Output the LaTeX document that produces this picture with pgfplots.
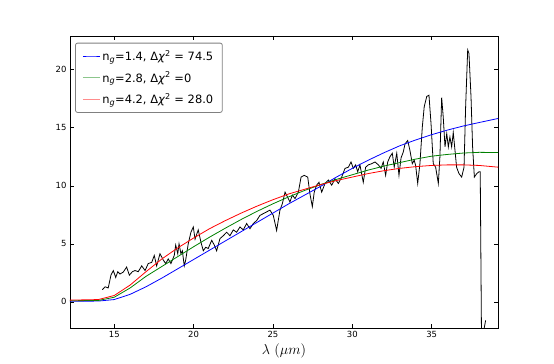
\documentclass[border=0pt]{standalone}
\usepackage{fontspec}
\setmainfont{DejaVu Sans}
\usepackage{pgfplots}
\pgfplotsset{compat=1.18}

\definecolor{mplgreen}{rgb}{0,0.5,0}

\begin{document}
\begin{tikzpicture}
\useasboundingbox (-70bp,-36bp) rectangle (484bp,328bp);
\begin{axis}[
    at={(0,0)}, anchor=south west,
    scale only axis, width=428bp, height=292bp,
    xmin=12.21, xmax=39.18, ymin=-2.25, ymax=22.9,
    xtick={15,20,25,30,35}, ytick={0,5,10,15,20},
    tick align=inside, major tick length=4bp,
    tick style={black, line width=0.5pt},
    axis line style={line width=0.8pt},
    ticklabel style={font=\fontsize{8.5}{10}\selectfont},
    /pgf/number format/assume math mode=true,
    xlabel={$\lambda\ (\mu m)$},
    xlabel style={font=\fontsize{14}{16}\selectfont, at={(axis description cs:0.5,0)}, anchor=center, yshift=-23bp},
    legend cell align=left,
    legend style={at={(axis description cs:0.012,0.977)}, anchor=north west,
        draw=black!50, line width=0.8pt, rounded corners=2pt,
        font=\fontsize{11.5}{13}\selectfont, row sep=6bp, inner xsep=7bp, inner ysep=5bp},
]
\addlegendimage{blue, line width=0.8pt}
\addlegendentry{n\textsubscript{\textit{g}}=1.4, Δ\textit{χ}\textsuperscript{2} = 74.5}
\addlegendimage{mplgreen!45, line width=0.8pt}
\addlegendentry{n\textsubscript{\textit{g}}=2.8, Δ\textit{χ}\textsuperscript{2} =0}
\addlegendimage{red!45, line width=0.8pt}
\addlegendentry{n\textsubscript{\textit{g}}=4.2, Δ\textit{χ}\textsuperscript{2} = 28.0}

% observed spectrum
\addplot[black, line width=0.8pt, forget plot] coordinates {
(14.25,1.05) (14.42,1.3) (14.62,1.2) (14.79,2.3) (14.94,2.7) (15.09,2.1)
(15.22,2.6) (15.36,2.4) (15.57,2.57) (15.78,3.0) (15.95,2.3) (16.14,2.6)
(16.31,2.7) (16.51,2.6) (16.73,3.1) (16.94,2.7) (17.14,3.3) (17.36,3.4)
(17.52,4.0) (17.67,3.1) (17.88,4.15) (18.09,3.6) (18.24,3.3) (18.40,3.7)
(18.57,3.3) (18.78,4.0) (18.87,4.9) (19.00,4.15) (19.08,5.0) (19.20,4.15)
(19.29,4.4) (19.41,3.1) (19.50,3.6) (19.66,5.0) (19.83,6.0) (19.98,6.45)
(20.09,5.4) (20.29,6.2) (20.46,5.15) (20.61,4.4) (20.76,4.7) (20.92,4.6)
(21.14,5.3) (21.30,4.9) (21.45,4.4) (21.66,5.45) (21.87,5.7) (22.08,6.0)
(22.29,5.7) (22.50,6.2) (22.71,6.0) (22.92,6.45) (23.13,6.2) (23.34,6.75)
(23.55,6.3) (23.76,6.75) (23.97,7.0) (24.18,7.45) (24.39,7.6) (24.60,7.75)
(24.81,7.9) (25.02,7.45) (25.23,6.15) (25.44,7.9) (25.59,8.45) (25.76,9.45)
(25.93,9.0) (26.07,8.6) (26.22,9.2) (26.39,8.9) (26.60,9.45) (26.77,10.75)
(26.97,10.9) (27.19,10.75) (27.33,9.3) (27.48,8.2) (27.60,9.45) (27.75,10.05)
(27.90,10.3) (28.07,9.45) (28.28,10.2) (28.49,10.5) (28.70,10.05) (28.91,10.6)
(29.12,10.2) (29.33,10.75) (29.54,11.5) (29.75,11.6) (29.92,12.05) (30.06,11.5)
(30.21,11.8) (30.34,11.2) (30.48,11.8) (30.69,10.3) (30.84,11.6) (31.01,11.8)
(31.22,11.9) (31.43,12.05) (31.64,11.8) (31.81,11.5) (31.95,12.05) (32.10,10.9)
(32.23,12.05) (32.37,12.5) (32.52,12.8) (32.64,11.6) (32.80,12.8) (32.94,10.9)
(33.07,12.4) (33.21,12.9) (33.32,13.6) (33.49,13.9) (33.63,13.05) (33.78,11.9)
(33.90,12.2) (33.99,11.75) (34.12,10.2) (34.26,11.9) (34.41,15.05) (34.53,16.8)
(34.69,17.7) (34.83,17.8) (34.96,15.35) (35.10,11.9) (35.25,11.6) (35.42,10.2)
(35.52,12.5) (35.63,17.6) (35.73,15.9) (35.84,13.35) (35.95,14.5) (36.05,13.35)
(36.15,14.2) (36.26,13.35) (36.36,14.6) (36.47,13.05) (36.57,11.6) (36.72,11.05)
(36.89,10.75) (37.04,11.6) (37.14,16.8) (37.27,21.7) (37.35,21.4) (37.48,17.65)
(37.58,13.35) (37.69,10.75) (37.84,11.05) (37.98,11.2) (38.06,11.2) (38.14,-3.0)
(38.25,-2.7) (38.40,-1.6)
};

% model curves
\addplot[blue, line width=0.8pt, forget plot] coordinates {
(12.2,0.05) (14,0.07) (15,0.2) (16,0.65) (17,1.3) (18,2.05) (19,2.85) (20,3.65)
(21,4.45) (22,5.25) (23,6.05) (24,6.85) (25,7.65) (26,8.45) (27,9.2) (28,9.95)
(29,10.75) (30,11.5) (31,12.2) (32,12.85) (33,13.45) (34,13.95) (35,14.4)
(36,14.8) (37,15.15) (38,15.45) (39.2,15.8)
};
\addplot[mplgreen, line width=0.8pt, forget plot] coordinates {
(12.2,0.1) (14,0.12) (15,0.4) (16,1.2) (17,2.2) (18,3.05) (19,3.9) (20,4.75)
(21,5.57) (22,6.35) (23,7.1) (24,7.8) (25,8.45) (26,9.05) (27,9.6) (28,10.1)
(29,10.55) (30,10.95) (31,11.35) (32,11.7) (33,12.0) (34,12.3) (35,12.55)
(36,12.7) (37,12.82) (38,12.88) (39.2,12.86)
};
\addplot[red, line width=0.8pt, forget plot] coordinates {
(12.2,0.15) (14,0.2) (15,0.55) (16,1.45) (17,2.6) (18,3.7) (19,4.65) (20,5.5)
(21,6.3) (22,7.0) (23,7.65) (24,8.25) (25,8.8) (26,9.3) (27,9.7) (28,10.1)
(29,10.45) (30,10.75) (31,11.05) (32,11.3) (33,11.5) (34,11.65) (35,11.75)
(36,11.8) (37,11.8) (38,11.75) (39.2,11.6)
};
\end{axis}
\end{tikzpicture}
\end{document}
